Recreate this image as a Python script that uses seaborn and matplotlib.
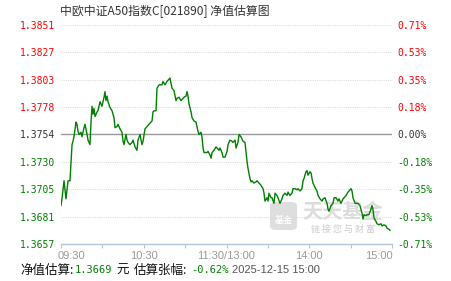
import matplotlib
matplotlib.use("Agg")
import matplotlib.pyplot as plt
from matplotlib.patches import FancyBboxPatch
from matplotlib.transforms import ScaledTranslation
import numpy as np
import pandas as pd
import seaborn as sns

# ---------------- data ----------------
title = "中欧中证A50指数C[021890] 净值估算图"
base_nav = 1.3754
y_min, y_max = 1.3657, 1.3851
left_labels = ["1.3851", "1.3827", "1.3803", "1.3778", "1.3754",
               "1.3730", "1.3705", "1.3681", "1.3657"]
right_labels = ["0.71%", "0.53%", "0.35%", "0.18%", "0.00%",
                "-0.18%", "-0.35%", "-0.53%", "-0.71%"]
x_major = [0, 60, 120, 180, 240]
x_major_labels = ["09:30", "10:30", "11:30/13:00", "14:00", "15:00"]
x_minor = [30, 90, 150, 210]

minutes = [0, 0.7, 2.2, 3.6, 4.4, 5.1, 6.5, 7.3, 8.0, 8.7, 9.4, 10.9, 11.6, 12.3, 13.1,
           14.5, 15.2, 16.7, 17.4, 18.9, 19.6, 21.0, 21.8, 22.5, 23.2, 23.9, 24.7, 26.1,
           26.8, 28.3, 29.7, 31.2, 31.9, 32.6, 33.4, 34.1, 35.5, 37.0, 37.7, 38.4, 39.2,
           40.6, 41.3, 42.8, 44.2, 45.0, 45.7, 47.1, 47.9, 48.6, 50.0, 51.5, 52.2, 53.7,
           55.1, 55.8, 57.3, 58.7, 59.5, 60.9, 62.4, 63.8, 66.0, 66.7, 67.4, 68.9, 69.6,
           71.1, 73.2, 74.0, 75.4, 76.9, 77.6, 79.0, 80.5, 81.9, 83.4, 84.1, 85.6, 87.0,
           88.5, 89.2, 90.6, 91.4, 92.1, 92.8, 94.3, 95.0, 96.4, 97.9, 98.6, 99.3, 100.1,
           101.5, 102.2, 103.0, 103.7, 105.9, 106.6, 108.0, 108.8, 109.5, 110.9, 112.4,
           113.1, 114.6, 115.3, 116.7, 117.5, 118.9, 120.4, 121.1, 122.5, 124.0, 124.7,
           126.2, 126.9, 128.3, 129.1, 130.5, 132.0, 133.4, 134.1, 134.9, 135.6, 137.0,
           137.8, 138.5, 139.9, 141.4, 142.1, 143.6, 145.0, 146.5, 147.2, 147.9, 149.4,
           150.1, 150.8, 152.3, 153.0, 154.4, 155.2, 156.6, 157.3, 158.8, 160.2, 161.0,
           162.4, 163.9, 164.6, 166.0, 167.5, 168.2, 169.7, 171.1, 171.8, 173.3, 174.7,
           175.5, 176.2, 177.6, 178.4, 179.1, 180.5, 181.3, 182.0, 182.7, 184.2, 185.6,
           186.4, 187.8, 189.3, 190.0, 191.4, 192.9, 193.6, 194.3, 195.8, 197.2, 198.0,
           199.4, 200.8, 201.6, 203.0, 204.5, 205.2, 206.7, 208.1, 208.8, 210.3, 211.0,
           211.7, 213.2, 214.6, 215.4, 216.8, 218.3, 219.0, 219.7, 221.2, 221.9, 223.3,
           224.8, 225.5, 226.2, 227.0, 228.4, 229.1, 230.6, 232.0, 232.8, 234.2, 235.7,
           236.4, 237.8, 238.6]

nav = [1.3691, 1.3697, 1.3713, 1.3697, 1.3706, 1.3713, 1.3713, 1.3730, 1.3745, 1.3748,
       1.3752, 1.3765, 1.3763, 1.3757, 1.3754, 1.3756, 1.3752, 1.3760, 1.3763, 1.3754,
       1.3749, 1.3745, 1.3766, 1.3779, 1.3772, 1.3777, 1.3770, 1.3774, 1.3775, 1.3783,
       1.3779, 1.3787, 1.3792, 1.3784, 1.3788, 1.3783, 1.3778, 1.3775, 1.3772, 1.3769,
       1.3760, 1.3761, 1.3763, 1.3759, 1.3756, 1.3748, 1.3745, 1.3754, 1.3749, 1.3747,
       1.3745, 1.3747, 1.3749, 1.3743, 1.3740, 1.3749, 1.3754, 1.3745, 1.3748, 1.3759,
       1.3761, 1.3763, 1.3766, 1.3774, 1.3775, 1.3775, 1.3795, 1.3798, 1.3798, 1.3801,
       1.3798, 1.3801, 1.3802, 1.3804, 1.3795, 1.3793, 1.3784, 1.3786, 1.3787, 1.3784,
       1.3786, 1.3787, 1.3788, 1.3792, 1.3788, 1.3781, 1.3774, 1.3769, 1.3766, 1.3765,
       1.3761, 1.3757, 1.3754, 1.3756, 1.3752, 1.3742, 1.3738, 1.3738, 1.3739, 1.3736,
       1.3733, 1.3738, 1.3740, 1.3743, 1.3742, 1.3740, 1.3742, 1.3738, 1.3734, 1.3734,
       1.3739, 1.3745, 1.3749, 1.3748, 1.3747, 1.3749, 1.3742, 1.3747, 1.3754, 1.3752,
       1.3748, 1.3747, 1.3739, 1.3730, 1.3724, 1.3715, 1.3712, 1.3713, 1.3711, 1.3712,
       1.3713, 1.3711, 1.3709, 1.3706, 1.3702, 1.3695, 1.3698, 1.3695, 1.3702, 1.3698,
       1.3698, 1.3693, 1.3702, 1.3700, 1.3698, 1.3693, 1.3697, 1.3700, 1.3702, 1.3700,
       1.3703, 1.3700, 1.3702, 1.3706, 1.3706, 1.3705, 1.3706, 1.3704, 1.3706, 1.3713,
       1.3715, 1.3721, 1.3722, 1.3718, 1.3721, 1.3720, 1.3715, 1.3711, 1.3707, 1.3704,
       1.3700, 1.3697, 1.3695, 1.3697, 1.3698, 1.3693, 1.3688, 1.3686, 1.3691, 1.3693,
       1.3698, 1.3698, 1.3695, 1.3697, 1.3693, 1.3697, 1.3698, 1.3700, 1.3703, 1.3704,
       1.3706, 1.3704, 1.3698, 1.3693, 1.3693, 1.3693, 1.3691, 1.3684, 1.3679, 1.3683,
       1.3682, 1.3683, 1.3683, 1.3688, 1.3691, 1.3688, 1.3680, 1.3677, 1.3675, 1.3674,
       1.3675, 1.3673, 1.3674, 1.3673, 1.3671, 1.3670, 1.3669]

footer_nav = "1.3669"
footer_pct = "-0.62%"
footer_time = "2025-12-15 15:00"

# ---------------- style ----------------
sns.set_style("white")
plt.rcParams["font.family"] = ["Noto Sans CJK SC", "DejaVu Sans"]

RED = "#ff0000"
GREEN = "#008000"
DARK = "#333333"
AXBLUE = "#b5c6d6"

W, H = 451, 281
fig = plt.figure(figsize=(W / 100, H / 100), dpi=100)
fig.patch.set_facecolor("white")
ax = fig.add_axes([61 / W, 1 - 244 / H, (392 - 61) / W, (244 - 25) / H])

df = pd.DataFrame({"minute": minutes, "nav": nav})
sns.lineplot(data=df, x="minute", y="nav", ax=ax, color=GREEN, linewidth=1.0,
             estimator=None, sort=False, zorder=3)

ax.set_xlim(0, 240)
ax.set_ylim(y_min, y_max)
ax.set_xlabel("")
ax.set_ylabel("")

yt = np.linspace(y_max, y_min, len(left_labels))
ax.set_yticks(yt)
ax.set_yticklabels(left_labels, family="DejaVu Sans Mono", fontsize=7)
for i, lab in enumerate(ax.get_yticklabels()):
    lab.set_color(RED if i < 4 else (DARK if i == 4 else GREEN))
ax.tick_params(axis="y", length=0, pad=4)

# grid lines
for i, v in enumerate(yt):
    if i == 4:
        ax.axhline(v, color="#999999", lw=1.0, zorder=1)
    elif i != len(yt) - 1:
        ax.axhline(v, color="#dddddd", lw=0.8, ls=(0, (1, 1)), zorder=1)

# x axis
ax.set_xticks(x_major)
ax.set_xticklabels(x_major_labels, family="Liberation Sans", fontsize=8, color="#999999")
ax.set_xticks(x_minor, minor=True)
ax.tick_params(axis="x", which="both", length=3, width=0.8, color=AXBLUE, pad=2,
               direction="out", bottom=True)
xl = ax.get_xticklabels()
xl[0].set_horizontalalignment("left")
xl[0].set_transform(xl[0].get_transform() + ScaledTranslation(-3 / 100, 0, fig.dpi_scale_trans))
xl[-1].set_horizontalalignment("right")
xl[-1].set_transform(xl[-1].get_transform() + ScaledTranslation(1 / 100, 0, fig.dpi_scale_trans))
for s in ["top", "left", "right"]:
    ax.spines[s].set_visible(False)
ax.spines["bottom"].set_color(AXBLUE)
ax.spines["bottom"].set_linewidth(1.0)

# right axis
ax2 = ax.twinx()
ax2.set_ylim(y_min, y_max)
ax2.set_yticks(yt)
ax2.set_yticklabels(right_labels, family="DejaVu Sans Mono", fontsize=7)
for i, lab in enumerate(ax2.get_yticklabels()):
    lab.set_color(RED if i < 4 else (DARK if i == 4 else GREEN))
ax2.tick_params(axis="y", length=0, pad=4)
for s in ax2.spines.values():
    s.set_visible(False)

# watermark
box = FancyBboxPatch((270 / W, 1 - 230 / H), 27 / W, 28 / H,
                     boxstyle="round,pad=0,rounding_size=0.014",
                     transform=fig.transFigure, facecolor="#dedede",
                     edgecolor="none", zorder=0.5)
ax.add_patch(box)
ax.text(283.5 / W, 1 - 220 / H, "基金", transform=fig.transFigure, fontsize=6.5,
        color="white", ha="center", va="center", weight="bold", zorder=0.6)
ax.text(343 / W, 1 - 212 / H, "天天基金", transform=fig.transFigure, fontsize=14.5,
        color="#dcdcdc", ha="center", va="center", weight="bold", zorder=0.6)
ax.text(343 / W, 1 - 229 / H, "链 接 您 与 财 富", transform=fig.transFigure,
        fontsize=6.5, color="#cccccc", ha="center", va="center", zorder=0.6)

# title
fig.text(165 / W, 1 - 12 / H, title, fontsize=8.6, color=DARK, ha="center", va="center")

# footer
fy = 1 - 270 / H
fig.text(20 / W, fy, "净值估算:", fontsize=9, color="#111111", va="center")
fig.text(75 / W, fy, footer_nav, fontsize=7.5, color=GREEN, va="center",
         family="DejaVu Sans Mono")
fig.text(116 / W, fy, "元", fontsize=9, color="#111111", va="center")
fig.text(134 / W, fy, "估算张幅:", fontsize=9, color="#111111", va="center")
fig.text(191 / W, fy, footer_pct, fontsize=7.5, color=GREEN, va="center",
         family="DejaVu Sans Mono")
fig.text(232 / W, fy, footer_time, fontsize=8, color="#555555", va="center",
         family="Liberation Sans")

fig.savefig("out.png", dpi=100)
